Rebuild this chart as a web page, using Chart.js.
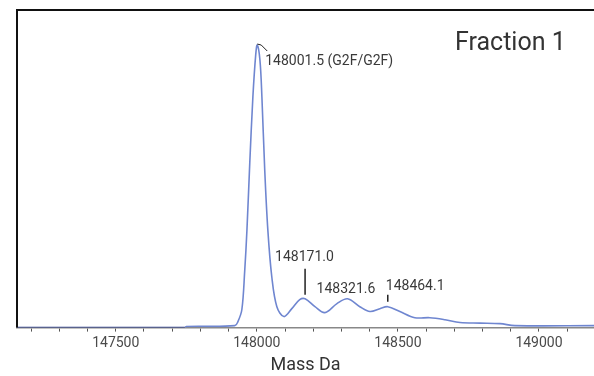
<!DOCTYPE html>
<html>
<head>
<meta charset="utf-8">
<script src="https://cdn.jsdelivr.net/npm/chart.js@4.4.1/dist/chart.umd.min.js"></script>
<style>
  html, body { margin: 0; padding: 0; background: #fff; }
  #wrap { width: 594px; height: 376px; }
</style>
</head>
<body>
<div id="wrap"><canvas id="massChart"></canvas></div>
<script>
// deconvoluted spectrum
const massDa = [147150, 147745, 147750, 147922, 147933, 147947, 147957, 147965, 147975, 147986, 147996, 148001.5,
    148011, 148018, 148028, 148039, 148053, 148071, 148096, 148124, 148152, 148171, 148206, 148241, 148284,
    148321.6, 148365, 148401, 148436, 148464.1, 148507, 148560, 148613, 148667, 148720, 148791, 148862, 148915, 149200];
const intensity = [0, 0, 0.4, 0.7, 2.1, 6.4, 20, 34.6, 58.3, 81.6, 96.5, 100,
    94.7, 81.6, 55.8, 34.6, 18.0, 7.4, 3.9, 6.7, 9.9, 10.2, 7.4, 5.3, 8.5,
    10.2, 7.4, 5.7, 6.7, 7.4, 5.7, 3.5, 3.5, 2.8, 1.8, 1.6, 1.4, 0.7, 0.7];

const peakMasses = [148001.5, 148171.0, 148321.6, 148464.1];
const peakHeights = [100, 10.2, 10.2, 7.4];
const peakLabels = ['148001.5 (G2F/G2F)', '148171.0', '148321.6', '148464.1'];
const xTicks = [147500, 148000, 148500, 149000];

const FONT = "'Roboto', 'Liberation Sans', sans-serif";

const points = massDa.map((m, i) => ({ x: m, y: intensity[i] }));

// frame + peak annotations
const decorations = {
    id: 'decorations',
    afterDraw(chart) {
        const c = chart.ctx;
        const a = chart.chartArea;
        const xs = chart.scales.x, ys = chart.scales.y;
        c.save();
        c.strokeStyle = '#111';
        c.lineWidth = 2;
        c.beginPath();
        c.moveTo(a.left, a.bottom);
        c.lineTo(a.left, a.top);
        c.lineTo(a.right, a.top);
        c.stroke();

        const px = peakMasses.map(m => xs.getPixelForValue(m));
        const py = peakHeights.map(v => ys.getPixelForValue(v));

        c.strokeStyle = '#222';
        c.lineWidth = 1;
        // leader for main peak
        c.beginPath();
        c.moveTo(px[0], py[0] - 1);
        c.lineTo(px[0] + 4, py[0]);
        c.lineTo(px[0] + 10, py[0] + 6);
        c.stroke();
        // ticks above minor peaks
        c.lineWidth = 1.5;
        c.beginPath();
        c.moveTo(px[1], py[1] - 4);
        c.lineTo(px[1], py[1] - 30);
        c.moveTo(px[3], py[3] - 5);
        c.lineTo(px[3], py[3] - 12);
        c.stroke();

        c.fillStyle = '#3a3a3a';
        c.font = '14px ' + FONT;
        c.textBaseline = 'middle';
        c.textAlign = 'left';
        c.fillText(peakLabels[0], px[0] + 8, py[0] + 16);
        c.fillText(peakLabels[1], px[1] - 30, py[1] - 41);
        c.fillText(peakLabels[2], px[2] - 31, py[2] - 9);
        c.fillText(peakLabels[3], px[3] - 2, py[3] - 20);

        c.font = '25px ' + FONT;
        c.fillStyle = '#333';
        c.fillText('Fraction 1', 455, 44);
        c.restore();
    }
};

new Chart(document.getElementById('massChart'), {
    type: 'line',
    data: {
        datasets: [{
            data: points,
            borderColor: '#6f86d0',
            borderWidth: 1.6,
            pointRadius: 0,
            tension: 0.35,
            fill: false,
            segment: {
                borderColor: ctx => ctx.p1.parsed.x <= 147745 ? '#2b3d8f' : undefined,
            },
        }],
    },
    options: {
        responsive: true,
        maintainAspectRatio: false,
        animation: false,
        layout: { padding: { left: 17, right: 0, top: 10, bottom: 0 } },
        plugins: {
            legend: { display: false },
            tooltip: { enabled: false },
        },
        scales: {
            x: {
                type: 'linear',
                min: 147150,
                max: 149195,
                afterBuildTicks: axis => {
                    const t = [];
                    for (let v = 147200; v <= 149100; v += 100) t.push({ value: v });
                    axis.ticks = t;
                },
                ticks: {
                    autoSkip: false,
                    maxRotation: 0,
                    padding: 3,
                    color: '#4a4a4a',
                    font: { family: FONT, size: 14 },
                    callback: v => xTicks.includes(v) ? String(v) : '',
                },
                grid: {
                    drawOnChartArea: false,
                    drawTicks: true,
                    tickLength: 4,
                    color: '#555',
                },
                border: { display: true, color: '#888', width: 1.5 },
                title: {
                    display: true,
                    text: 'Mass Da',
                    color: '#333',
                    font: { family: FONT, size: 18 },
                    padding: { top: 0, bottom: 0 },
                },
            },
            y: {
                display: false,
                min: 0,
                max: 112.4,
            },
        },
    },
    plugins: [decorations],
});
</script>
</body>
</html>
